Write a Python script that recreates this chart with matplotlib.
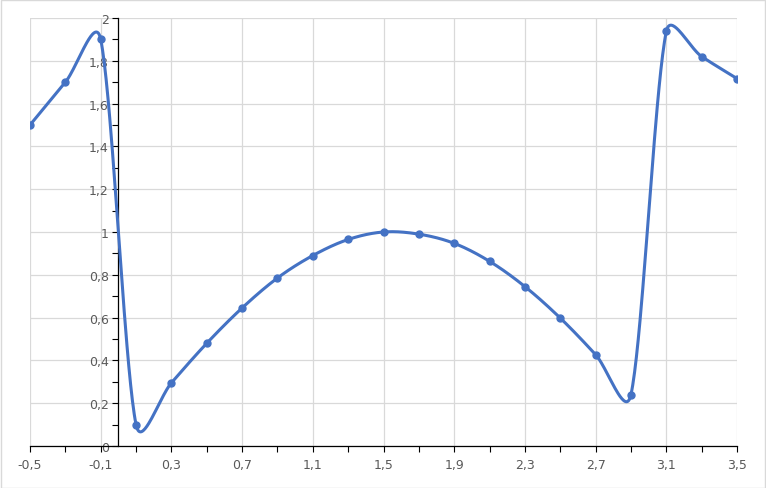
import numpy as np
import matplotlib
matplotlib.use("Agg")
import matplotlib.pyplot as plt
from matplotlib.ticker import MultipleLocator, FuncFormatter
from matplotlib.patches import Rectangle

# data
x_vals = [-0.5, -0.3, -0.1, 0.1, 0.3, 0.5, 0.7, 0.9, 1.1, 1.3, 1.5,
          1.7, 1.9, 2.1, 2.3, 2.5, 2.7, 2.9, 3.1, 3.3, 3.5]
y_vals = [1.50, 1.70, 1.90, 0.10, 0.295, 0.48, 0.645, 0.785, 0.89, 0.965, 1.00,
          0.99, 0.947, 0.863, 0.745, 0.598, 0.427, 0.24, 1.937, 1.82, 1.717]

LINE_COLOR = "#4472C4"
GRID_COLOR = "#D9D9D9"
TEXT_COLOR = "#595959"


def smooth(xs, ys, sx, sy, n=40):
    """Excel-like smoothed line, worked out in pixel space.
    Catmull-Rom arms (chord/6), each clipped to half of its own segment."""
    p = np.column_stack([np.asarray(xs) * sx, np.asarray(ys) * sy])
    m = len(p)

    def arm(i, seg_len):
        v = (p[min(i + 1, m - 1)] - p[max(i - 1, 0)]) / 6
        L = np.linalg.norm(v)
        lim = seg_len * 0.5
        if L > lim and L > 0:
            v = v * lim / L
        return v

    out = []
    for i in range(m - 1):
        p1, p2 = p[i], p[i + 1]
        L = np.linalg.norm(p2 - p1)
        c1 = p1 + arm(i, L)
        c2 = p2 - arm(i + 1, L)
        t = np.linspace(0, 1, n)[:, None]
        seg = ((1 - t) ** 3) * p1 + 3 * ((1 - t) ** 2) * t * c1 \
            + 3 * (1 - t) * t ** 2 * c2 + t ** 3 * p2
        out.append(seg if i == 0 else seg[1:])
    out = np.vstack(out)
    return out[:, 0] / sx, out[:, 1] / sy


def comma(v, pos):
    s = f"{v:.1f}".rstrip("0").rstrip(".")
    if s == "-0":
        s = "0"
    return s.replace(".", ",")


fig = plt.figure(figsize=(7.66, 4.89), dpi=100)
ax = fig.add_axes([30 / 766, 1 - 447 / 489, 707 / 766, 428 / 489])

ax.set_xlim(-0.5, 3.5)
ax.set_ylim(0, 2)

# pixels per data unit
px_x = 707 / 4.0
px_y = 428 / 2.0
cx, cy = smooth(x_vals, y_vals, px_x, px_y)
ax.plot(cx, cy, color=LINE_COLOR, linewidth=2.2, solid_capstyle="round", zorder=3)
ax.plot(x_vals, y_vals, "o", color=LINE_COLOR, markersize=5, zorder=4)

ax.set_xticks(np.arange(-0.5, 3.51, 0.4))
ax.set_xticks(np.arange(-0.5, 3.51, 0.2), minor=True)
ax.set_yticks(np.arange(0, 2.01, 0.2))
ax.yaxis.set_minor_locator(MultipleLocator(0.1))
ax.xaxis.set_major_formatter(FuncFormatter(comma))
ax.yaxis.set_major_formatter(FuncFormatter(comma))

ax.grid(True, which="major", color=GRID_COLOR, linewidth=0.9)
ax.set_axisbelow(True)

for s in ["top", "right"]:
    ax.spines[s].set_visible(False)
ax.spines["left"].set_position(("data", 0))
for s in ["left", "bottom"]:
    ax.spines[s].set_color("black")
    ax.spines[s].set_linewidth(0.9)

ax.tick_params(which="both", direction="out", color="black", width=0.8,
               length=4, labelsize=9, labelcolor=TEXT_COLOR)
ax.tick_params(axis="x", pad=5)
ax.tick_params(axis="y", pad=3)

# chart area border
fig.patches.append(Rectangle((0.5 / 766, 0.5 / 489), 1 - 1.5 / 766, 1 - 1.5 / 489,
                             transform=fig.transFigure, fill=False,
                             edgecolor=GRID_COLOR, linewidth=1))

fig.savefig("out.png", dpi=100)
